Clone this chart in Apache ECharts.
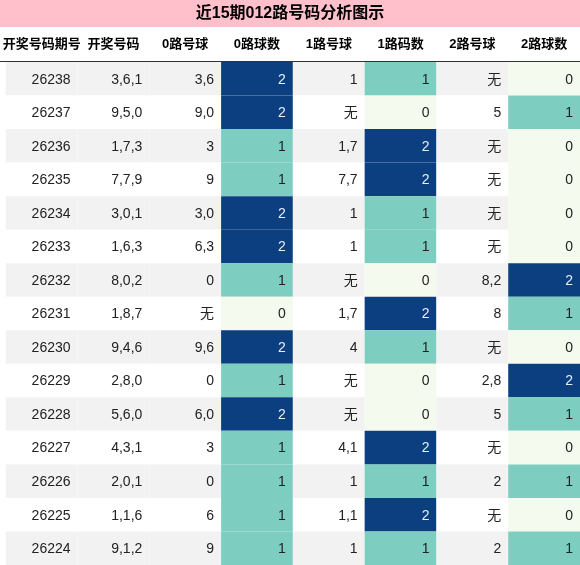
<!DOCTYPE html>
<html><head><meta charset="utf-8">
<script src="https://cdn.jsdelivr.net/npm/echarts@6/dist/echarts.min.js"></script>
<style>html,body{margin:0;padding:0}#c{width:580px;height:565px}</style>
</head><body><div id="c"></div>
<script>
const headers=['开奖号码期号','开奖号码','0路号球','0路球数','1路号球','1路码数','2路号球','2路球数'];
const periods=['26238','26237','26236','26235','26234','26233','26232','26231','26230','26229','26228','26227','26226','26225','26224'];
const draws=['3,6,1','9,5,0','1,7,3','7,7,9','3,0,1','1,6,3','8,0,2','1,8,7','9,4,6','2,8,0','5,6,0','4,3,1','2,0,1','1,1,6','9,1,2'];
const r0=['3,6','9,0','3','9','3,0','6,3','0','无','9,6','0','6,0','3','0','6','9'];
const c0=[2,2,1,1,2,2,1,0,2,1,2,1,1,1,1];
const r1=['1','无','1,7','7,7','1','1','无','1,7','4','无','无','4,1','1','1,1','1'];
const c1=[1,0,2,2,1,1,0,2,1,0,0,2,1,2,1];
const r2=['无','5','无','无','无','无','8,2','8','无','2,8','5','无','2','无','2'];
const c2=[0,1,0,0,0,0,2,1,0,2,1,0,1,0,1];
const cols=[periods,draws,r0,c0,r1,c1,r2,c2];
const countCols=[3,5,7];
const data=[];
cols.forEach((arr,x)=>arr.forEach((v,y)=>data.push([x,y,String(v)])));
const fills=['#f4faee','#7ecdc1','#0c3f80'];
const chart=echarts.init(document.getElementById('c'));
chart.setOption({
  animation:false,
  graphic:[{type:'rect',shape:{x:0,y:0,width:580,height:27},style:{fill:'#ffc0cb'}},
    {type:'text',x:290,y:14,style:{text:'近15期012路号码分析图示',fill:'#000',font:'bold 16px "Liberation Sans","Noto Sans CJK SC"',align:'center',verticalAlign:'middle'}},
    {type:'line',shape:{x1:0,y1:61.5,x2:580,y2:61.5},style:{stroke:'#333',lineWidth:1}}],
  grid:{left:0,right:0,top:62,bottom:0},
  xAxis:{type:'category',data:headers,position:'top',axisLine:{show:false},axisTick:{show:false},
    axisLabel:{interval:0,hideOverlap:false,margin:11,fontWeight:'bold',fontSize:13,color:'#000',fontFamily:'"Liberation Sans","Noto Sans CJK SC"'}},
  yAxis:{type:'category',data:periods,inverse:true,show:false},
  series:[{type:'custom',data:data,renderItem:function(p,api){
    const x=api.value(0),y=api.value(1),t=data[p.dataIndex][2];
    const c=api.coord([x,y]),s=api.size([1,1]);
    let fill=y%2===0?'#f2f2f2':'#ffffff';let tc='#222';
    if(countCols.includes(x)){fill=fills[+t];if(+t===2)tc='#e8eef8';}
    return {type:'group',children:[
      {type:'rect',shape:{x:c[0]-s[0]/2,y:c[1]-s[1]/2,width:s[0],height:s[1]},style:{fill:fill}},
      {type:'text',x:c[0]+s[0]/2-7,y:c[1]+1,style:{text:t,fill:tc,align:'right',verticalAlign:'middle',font:'14px "Liberation Sans","Noto Sans CJK SC"'}}]};
  }}]
});
</script></body></html>
